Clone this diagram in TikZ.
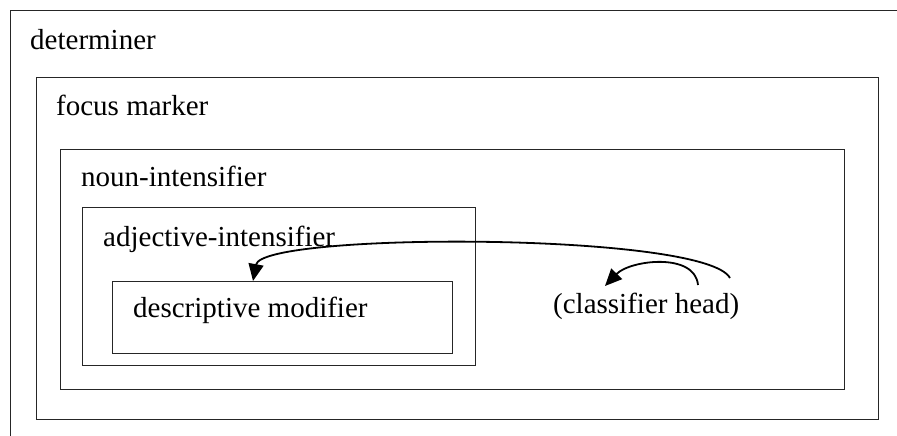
\documentclass[tikz,border=0pt]{standalone}
\usepackage{fontspec}
\setmainfont{Liberation Serif}
\usetikzlibrary{arrows.meta}
\begin{document}
\begin{tikzpicture}[x=1pt,y=-1pt,
  box/.style={draw=black!85, line width=1.3pt, rectangle, anchor=north west, inner sep=0pt},
  lbl/.style={anchor=base west, inner sep=0pt, font=\fontsize{29}{34}\selectfont},
  arr/.style={line width=1.8pt, -{Triangle[length=17pt,width=15pt]}}]
\useasboundingbox (0,0) rectangle (897,436);
\begin{scope}
\clip (0,0) rectangle (897,436);
\node[box, minimum width=920pt, minimum height=460pt] (det) at (10,10) {};
\end{scope}
\node[box, minimum width=842pt, minimum height=342pt] (foc) at (36,77) {};
\node[box, minimum width=784pt, minimum height=240pt] (noun) at (60,149) {};
\node[box, minimum width=393pt, minimum height=158pt] (adj) at (82,207) {};
\node[box, minimum width=340pt, minimum height=72pt] (desc) at (112,281) {};
\node[lbl] (tdet) at (30,50) {determiner};
\node[lbl] (tfoc) at (56,115) {focus marker};
\node[lbl] (tnoun) at (81,186) {noun-intensifier};
\node[lbl] (tadj) at (103,246) {adjective-intensifier};
\node[lbl] (tdesc) at (133,317) {descriptive modifier};
\node[lbl] (head) at (553,313) {(classifier head)};
\coordinate (s1) at (730,278);
\coordinate (s2) at (698,285);
\coordinate (e2) at (605,286);
\coordinate (e1) at (desc.north west -| 253,0);
\draw[arr] (s1) .. controls (705,232) and (262,232) .. (e1);
\draw[arr] (s2) .. controls (695,252) and (630,260) .. (e2);
\end{tikzpicture}
\end{document}
